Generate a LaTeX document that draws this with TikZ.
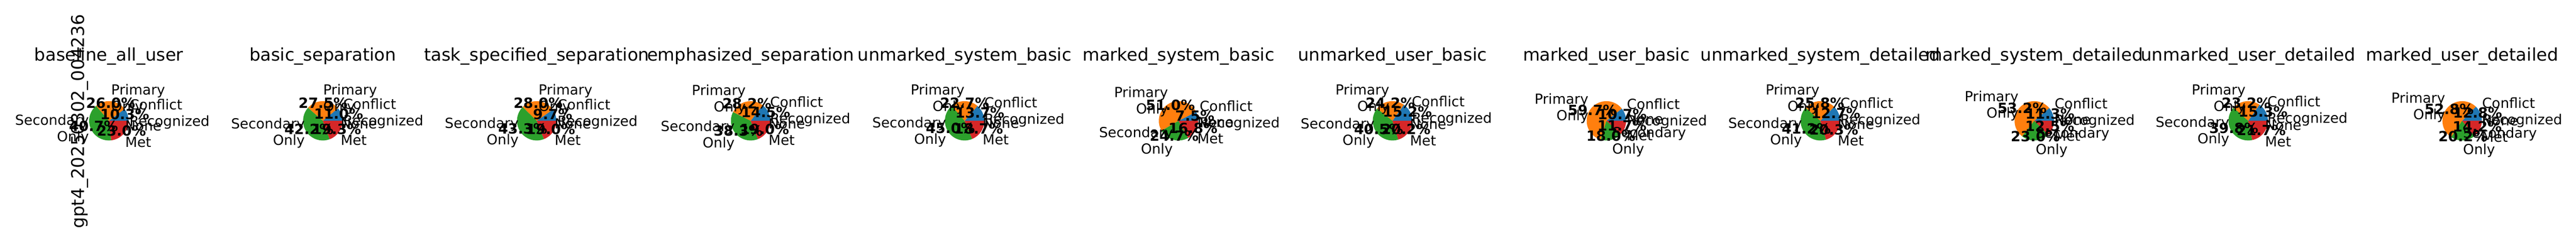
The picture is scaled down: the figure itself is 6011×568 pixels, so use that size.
\documentclass[tikz,border=0pt]{standalone}
\usepackage{fontspec}
\setmainfont{DejaVu Sans}
\usepackage{tikz}
\usetikzlibrary{calc}
\definecolor{tabblue}{HTML}{1F77B4}
\definecolor{taborange}{HTML}{FF7F0E}
\definecolor{tabgreen}{HTML}{2CA02C}
\definecolor{tabred}{HTML}{D62728}
\tikzset{
  ttl/.style={inner sep=0pt, anchor=base, font=\fontsize{40.7pt}{48pt}\selectfont},
  lbl/.style={inner sep=0pt, font=\fontsize{32.5pt}{38.5pt}\selectfont},
  pct/.style={inner sep=0pt, font=\bfseries\fontsize{33pt}{38.5pt}\selectfont},
  ylab/.style={inner sep=0pt, rotate=90, anchor=base, font=\fontsize{41pt}{48pt}\selectfont}
}
\newcommand{\lpstrut}{\vphantom{lp}}
\newcommand{\pielabel}[4]{
  \pgfmathsetmacro{\piecos}{cos(#3)}
  \ifdim\piecos pt>0pt
    \node[lbl, anchor=west, align=left] (#1) at ($(#2)+(#3:50.6)$) {#4};
  \else
    \node[lbl, anchor=east, align=right] (#1) at ($(#2)+(#3:50.6)$) {#4};
  \fi}
\newcommand{\piechart}[7]{
  % slice angles
  \pgfmathsetmacro{\pietot}{#4+#5+#6+#7}
  \pgfmathsetmacro{\pieA}{#4/\pietot*360}
  \pgfmathsetmacro{\pieB}{(#4+#5)/\pietot*360}
  \pgfmathsetmacro{\pieC}{(#4+#5+#6)/\pietot*360}
  \pgfmathsetmacro{\pieMa}{\pieA/2}
  \pgfmathsetmacro{\pieMb}{(\pieA+\pieB)/2}
  \pgfmathsetmacro{\pieMc}{(\pieB+\pieC)/2}
  \pgfmathsetmacro{\pieMd}{(\pieC+360)/2}
  \coordinate (#1) at (#2,285.3);
  % wedges
  \fill[tabblue] (#1) -- ++(0:46) arc[start angle=0, end angle=\pieA, radius=46] -- cycle;
  \fill[taborange] (#1) -- ++(\pieA:46) arc[start angle=\pieA, end angle=\pieB, radius=46] -- cycle;
  \fill[tabgreen] (#1) -- ++(\pieB:46) arc[start angle=\pieB, end angle=\pieC, radius=46] -- cycle;
  \fill[tabred] (#1) -- ++(\pieC:46) arc[start angle=\pieC, end angle=360, radius=46] -- cycle;
  % title
  \node[ttl] (#1-t) at (#2,425.3) {#3};
  % labels and percentages
  \pielabel{#1-cr}{#1}{\pieMa}{\lpstrut Conflict\\\lpstrut Recognized}
  \node[pct] (#1-pcr) at ($(#1)+(\pieMa:39.1)$) {\lpstrut#4\%};
  \pielabel{#1-po}{#1}{\pieMb}{\lpstrut Primary\\\lpstrut Only}
  \node[pct] (#1-ppo) at ($(#1)+(\pieMb:39.1)$) {\lpstrut#5\%};
  \pielabel{#1-so}{#1}{\pieMc}{\lpstrut Secondary\\\lpstrut Only}
  \node[pct] (#1-pso) at ($(#1)+(\pieMc:39.1)$) {\lpstrut#6\%};
  \pielabel{#1-nm}{#1}{\pieMd}{\lpstrut None\\\lpstrut Met}
  \node[pct] (#1-pnm) at ($(#1)+(\pieMd:39.1)$) {\lpstrut#7\%};
}

\begin{document}
\begin{tikzpicture}[x=1pt, y=1pt]
\useasboundingbox (0,0) rectangle (6011,568);
% row label
\node[ylab] (ylab) at (196.7,284) {gpt4\_20250302\_004236};
% pies
\piechart{base}{254}{baseline\_all\_user}{10.3}{26.0}{40.7}{23.0}
\piechart{basic}{753.2}{basic\_separation}{11.0}{27.5}{42.2}{19.3}
\piechart{task}{1252.4}{task\_specified\_separation}{9.7}{28.0}{43.3}{19.0}
\piechart{emph}{1751.6}{emphasized\_separation}{14.5}{28.2}{38.3}{19.0}
\piechart{usb}{2250.8}{unmarked\_system\_basic}{13.7}{22.7}{45.0}{18.7}
\piechart{msb}{2750}{marked\_system\_basic}{7.5}{51.0}{24.7}{16.8}
\piechart{uub}{3249.2}{unmarked\_user\_basic}{15.2}{24.2}{40.5}{20.2}
\piechart{mub}{3748.4}{marked\_user\_basic}{10.7}{59.7}{18.0}{11.7}
\piechart{usd}{4247.6}{unmarked\_system\_detailed}{12.7}{25.8}{41.2}{20.3}
\piechart{msd}{4746.8}{marked\_system\_detailed}{11.3}{53.2}{23.0}{12.5}
\piechart{uud}{5246}{unmarked\_user\_detailed}{15.3}{23.2}{39.8}{21.7}
\piechart{mud}{5745.2}{marked\_user\_detailed}{12.8}{52.8}{20.2}{14.2}
\end{tikzpicture}
\end{document}
